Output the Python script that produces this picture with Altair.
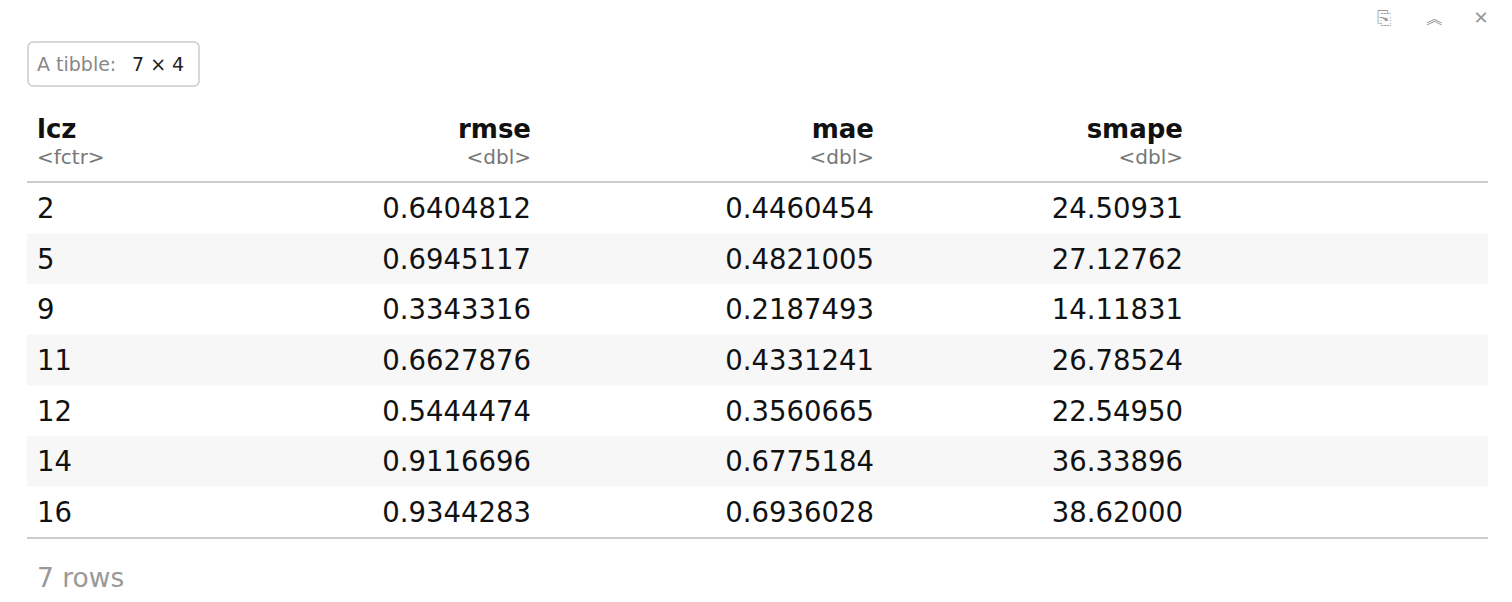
import altair as alt
import pandas as pd

lcz = ["2", "5", "9", "11", "12", "14", "16"]
rmse = [0.6404812, 0.6945117, 0.3343316, 0.6627876, 0.5444474, 0.9116696, 0.9344283]
mae = [0.4460454, 0.4821005, 0.2187493, 0.4331241, 0.3560665, 0.6775184, 0.6936028]
smape = [24.50931, 27.12762, 14.11831, 26.78524, 22.54950, 36.33896, 38.62000]
headers = ["lcz", "rmse", "mae", "smape"]
types = ["<fctr>", "<dbl>", "<dbl>", "<dbl>"]

FONT = "DejaVu Sans"
df = pd.DataFrame({"i": range(len(lcz)), "lcz": lcz, "rmse": rmse, "mae": mae, "smape": smape})
df["rmse_s"] = [f"{v:.7f}" for v in rmse]
df["mae_s"] = [f"{v:.7f}" for v in mae]
df["smape_s"] = [f"{v:.5f}" for v in smape]
df["lo"] = df["i"] - 0.5
df["hi"] = df["i"] + 0.5

yscale = alt.Scale(domain=[0, 6], range=[200, 504])
base = alt.Chart(df)

stripes = base.transform_filter("datum.i % 2 == 1").mark_rect(color="#f7f7f7").encode(
    x=alt.value(19), x2=alt.value(1480),
    y=alt.Y("lo:Q", scale=yscale, axis=None), y2="hi:Q")

colx = {"lcz": (29, "left"), "rmse": (523, "right"), "mae": (866, "right"), "smape": (1175, "right")}
layers = [stripes]
for name, field in [("lcz", "lcz"), ("rmse", "rmse_s"), ("mae", "mae_s"), ("smape", "smape_s")]:
    xp, al = colx[name]
    layers.append(base.mark_text(align=al, baseline="middle", font=FONT, fontSize=27.5, dy=2, color="#111").encode(
        x=alt.value(xp), y=alt.Y("i:Q", scale=yscale, axis=None), text=f"{field}:N"))

hdr = pd.DataFrame({"h": headers, "t": types})
for k, name in enumerate(headers):
    xp, al = colx[name]
    one = alt.Chart(hdr).transform_filter(f"datum.h == '{name}'")
    layers.append(one.mark_text(align=al, baseline="middle", font=FONT, fontSize=26, fontWeight="bold", color="#111").encode(
        x=alt.value(xp), y=alt.value(122), text="h:N"))
    layers.append(one.mark_text(align=al, baseline="middle", font=FONT, fontSize=20, color="#777").encode(
        x=alt.value(xp), y=alt.value(150), text="t:N"))

one_row = alt.Chart(pd.DataFrame({"a": [1]}))
layers.append(one_row.mark_rule(color="#cccccc", strokeWidth=2).encode(x=alt.value(19), x2=alt.value(1480), y=alt.value(174)))
layers.append(one_row.mark_rule(color="#cccccc", strokeWidth=2).encode(x=alt.value(19), x2=alt.value(1480), y=alt.value(530)))
layers.append(one_row.mark_rect(fill="white", stroke="#cccccc", strokeWidth=1.5, cornerRadius=5).encode(
    x=alt.value(20), x2=alt.value(191), y=alt.value(34), y2=alt.value(78)))
layers.append(one_row.mark_text(align="left", baseline="middle", font=FONT, fontSize=19, color="#888").encode(
    x=alt.value(29), y=alt.value(57), text=alt.value("A tibble:")))
layers.append(one_row.mark_text(align="left", baseline="middle", font=FONT, fontSize=19, color="#222").encode(
    x=alt.value(124), y=alt.value(57), text=alt.value("7 × 4")))
layers.append(one_row.mark_text(align="left", baseline="middle", font=FONT, fontSize=26.5, color="#999").encode(
    x=alt.value(29), y=alt.value(571), text=alt.value("7 rows")))
for xp, s in [(1376, "⎘"), (1427, "︽"), (1473, "✕")]:
    layers.append(one_row.mark_text(align="center", baseline="middle", font=FONT, fontSize=18, color="#999").encode(
        x=alt.value(xp), y=alt.value(11), text=alt.value(s)))

chart = alt.layer(*layers).properties(width=1496, height=586, padding=0, autosize="none").configure_view(stroke=None)
chart.save("out.html", embed_options={"renderer": "svg", "actions": False})
